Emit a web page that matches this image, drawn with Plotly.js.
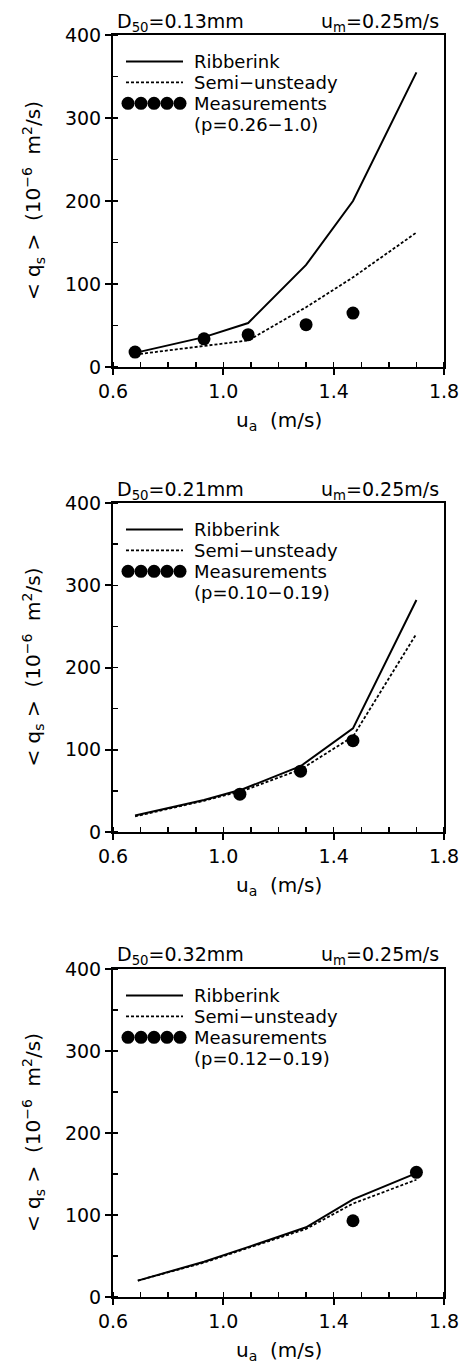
<!DOCTYPE html>
<html>
<head>
<meta charset="utf-8">
<script src="https://cdn.plot.ly/plotly-3.0.1.min.js"></script>
<style>html,body{margin:0;padding:0;background:#fff;}</style>
</head>
<body>
<div id="chart" style="width:459px;height:1365px;"></div>
<script>
// ---- data ----
const panelD50 = ["0.13", "0.21", "0.32"];
const panelUm = ["0.25", "0.25", "0.25"];
const panelP = ["(p=0.26\u22121.0)", "(p=0.10\u22120.19)", "(p=0.12\u22120.19)"];

const ua1 = [0.68, 0.93, 1.09, 1.30, 1.47, 1.70];
const rib1 = [17, 36, 53, 123, 200, 355];
const semi1 = [15, 25, 32, 72, 108, 162];
const measUa1 = [0.68, 0.93, 1.09, 1.30, 1.47];
const meas1 = [18, 34, 39, 51, 65];

const ua2 = [0.68, 0.93, 1.07, 1.28, 1.47, 1.70];
const rib2 = [20, 39, 52, 80, 126, 282];
const semi2 = [19, 38, 50, 76, 116, 241];
const measUa2 = [1.06, 1.28, 1.47];
const meas2 = [46, 74, 111];

const ua3 = [0.69, 0.93, 1.10, 1.30, 1.47, 1.70];
const rib3 = [20, 43, 62, 85, 119, 151];
const semi3 = [20, 42, 61, 83, 114, 143];
const measUa3 = [1.47, 1.70];
const meas3 = [93, 152];

const xTickVals = [0.6, 1.0, 1.4, 1.8];
const xTickText = ["0.6", "1.0", "1.4", "1.8"];
const yTickVals = [0, 100, 200, 300, 400];
const yTickText = ["0", "100", "200", "300", "400"];

const xTitle = "u<sub>a</sub>  (m/s)";
const yTitle = "&lt; q<sub>s</sub> &gt;  (10<sup>\u22126</sup>  m<sup>2</sup>/s)";

// ---- layout geometry (pixels) ----
const W = 459, H = 1365;
const plotLeft = 113, plotRight = 444;
const panelTops = [35, 503, 969];
const panelBottoms = [367, 832, 1297];
const FONT = "DejaVu Sans";
const FS = 19;
const TFS = 20;
const LFS = 18;

const series = [
  {ua: ua1, rib: rib1, semi: semi1, mx: measUa1, my: meas1},
  {ua: ua2, rib: rib2, semi: semi2, mx: measUa2, my: meas2},
  {ua: ua3, rib: rib3, semi: semi3, mx: measUa3, my: meas3}
];

const px = v => v / W;
const py = v => 1 - v / H;

const traces = [];
const layout = {
  width: W, height: H,
  margin: {l: 0, r: 0, t: 0, b: 0},
  paper_bgcolor: "#fff", plot_bgcolor: "#fff",
  showlegend: false,
  font: {family: FONT, size: FS, color: "#000"},
  annotations: [], shapes: []
};

series.forEach((s, i) => {
  const n = i + 1;
  const xa = n === 1 ? "x" : "x" + n;
  const ya = n === 1 ? "y" : "y" + n;
  const xKey = n === 1 ? "xaxis" : "xaxis" + n;
  const yKey = n === 1 ? "yaxis" : "yaxis" + n;
  const topKey = "xaxis" + (n + 3), rightKey = "yaxis" + (n + 3);
  const xdom = [px(plotLeft), px(plotRight)];
  const ydom = [py(panelBottoms[i]), py(panelTops[i])];

  traces.push({x: s.ua, y: s.rib, xaxis: xa, yaxis: ya, mode: "lines", name: "Ribberink",
    line: {color: "#000", width: 2}});
  traces.push({x: s.ua, y: s.semi, xaxis: xa, yaxis: ya, mode: "lines", name: "Semi-unsteady",
    line: {color: "#000", width: 1.8, dash: "3px,2px"}});
  traces.push({x: s.mx, y: s.my, xaxis: xa, yaxis: ya, mode: "markers", name: "Measurements",
    marker: {color: "#000", size: 13, symbol: "circle"}});

  layout[xKey] = {
    domain: xdom, anchor: ya, range: [0.6, 1.8],
    showline: true, linecolor: "#000", linewidth: 2, mirror: true,
    ticks: "outside", ticklen: 6, tickwidth: 2, tickcolor: "#000",
    tickmode: "array", tickvals: xTickVals, ticktext: xTickText,
    ticklabeloverflow: "allow",
    minor: {tickmode: "linear", tick0: 0.6, dtick: 0.1, ticks: "inside", ticklen: 5, tickwidth: 1.5, tickcolor: "#000", showgrid: false},
    showgrid: false, zeroline: false,
    tickfont: {family: FONT, size: FS, color: "#000"},
    automargin: false
  };
  layout[yKey] = {
    domain: ydom, anchor: xa, range: [0, 400],
    showline: true, linecolor: "#000", linewidth: 2, mirror: true,
    ticks: "outside", ticklen: 6, tickwidth: 2, tickcolor: "#000",
    tickmode: "array", tickvals: yTickVals, ticktext: yTickText,
    ticklabeloverflow: "allow",
    minor: {tickmode: "linear", tick0: 0, dtick: 50, ticks: "inside", ticklen: 5, tickwidth: 1.5, tickcolor: "#000", showgrid: false},
    showgrid: false, zeroline: false,
    tickfont: {family: FONT, size: FS, color: "#000"},
    automargin: false
  };
  // inward ticks on the top and right frame
  layout[topKey] = {
    overlaying: xa, anchor: ya, side: "top", range: [0.6, 1.8],
    tickmode: "array", tickvals: xTickVals, showticklabels: false,
    ticks: "inside", ticklen: 6, tickwidth: 2, tickcolor: "#000",
    showgrid: false, zeroline: false, showline: false
  };
  layout[rightKey] = {
    overlaying: ya, anchor: xa, side: "right", range: [0, 400],
    tickmode: "array", tickvals: yTickVals, showticklabels: false,
    ticks: "inside", ticklen: 6, tickwidth: 2, tickcolor: "#000",
    showgrid: false, zeroline: false, showline: false
  };

  const top = panelTops[i], bot = panelBottoms[i];
  // axis titles
  layout.annotations.push({xref: "paper", yref: "paper", x: px((plotLeft + plotRight) / 2), y: py(bot + 54),
    xanchor: "center", yanchor: "middle", showarrow: false, text: xTitle,
    font: {family: FONT, size: TFS, color: "#000"}});
  layout.annotations.push({xref: "paper", yref: "paper", x: px(33), y: py((top + bot) / 2),
    xanchor: "center", yanchor: "middle", showarrow: false, textangle: -90, text: yTitle,
    font: {family: FONT, size: TFS, color: "#000"}});
  // header texts
  layout.annotations.push({xref: "paper", yref: "paper", x: px(115), y: py(top - 13),
    xanchor: "left", yanchor: "middle", showarrow: false,
    text: "D<sub>50</sub>=" + panelD50[i] + "mm", font: {family: FONT, size: FS, color: "#000"}});
  layout.annotations.push({xref: "paper", yref: "paper", x: px(441), y: py(top - 13),
    xanchor: "right", yanchor: "middle", showarrow: false,
    text: "u<sub>m</sub>=" + panelUm[i] + "m/s", font: {family: FONT, size: FS, color: "#000"}});

  // legend box drawn inside the panel
  const lx0 = plotLeft + 13, lx1 = plotLeft + 70, tx = plotLeft + 79;
  const rows = [top + 26.5, top + 47.4, top + 68.3, top + 89.2];
  const labels = ["Ribberink", "Semi\u2212unsteady", "Measurements", panelP[i]];
  labels.forEach((t, k) => {
    layout.annotations.push({xref: "paper", yref: "paper", x: px(tx), y: py(rows[k]),
      xanchor: "left", yanchor: "middle", showarrow: false, text: t,
      font: {family: FONT, size: LFS, color: "#000"}});
  });
  layout.shapes.push({type: "line", xref: "paper", yref: "paper",
    x0: px(lx0), x1: px(lx1), y0: py(rows[0]), y1: py(rows[0]), line: {color: "#000", width: 2}});
  layout.shapes.push({type: "line", xref: "paper", yref: "paper",
    x0: px(lx0), x1: px(lx1), y0: py(rows[1]), y1: py(rows[1]), line: {color: "#000", width: 1.8, dash: "3px,2px"}});
  for (let k = 0; k < 5; k++) {
    layout.shapes.push({type: "circle", xref: "paper", yref: "paper",
      xsizemode: "pixel", ysizemode: "pixel",
      xanchor: px(plotLeft + 15 + 13 * k), yanchor: py(rows[2]),
      x0: -6.5, x1: 6.5, y0: -6.5, y1: 6.5,
      fillcolor: "#000", line: {color: "#000", width: 0}});
  }
});

Plotly.newPlot("chart", traces, layout, {staticPlot: true, displayModeBar: false});
</script>
</body>
</html>
